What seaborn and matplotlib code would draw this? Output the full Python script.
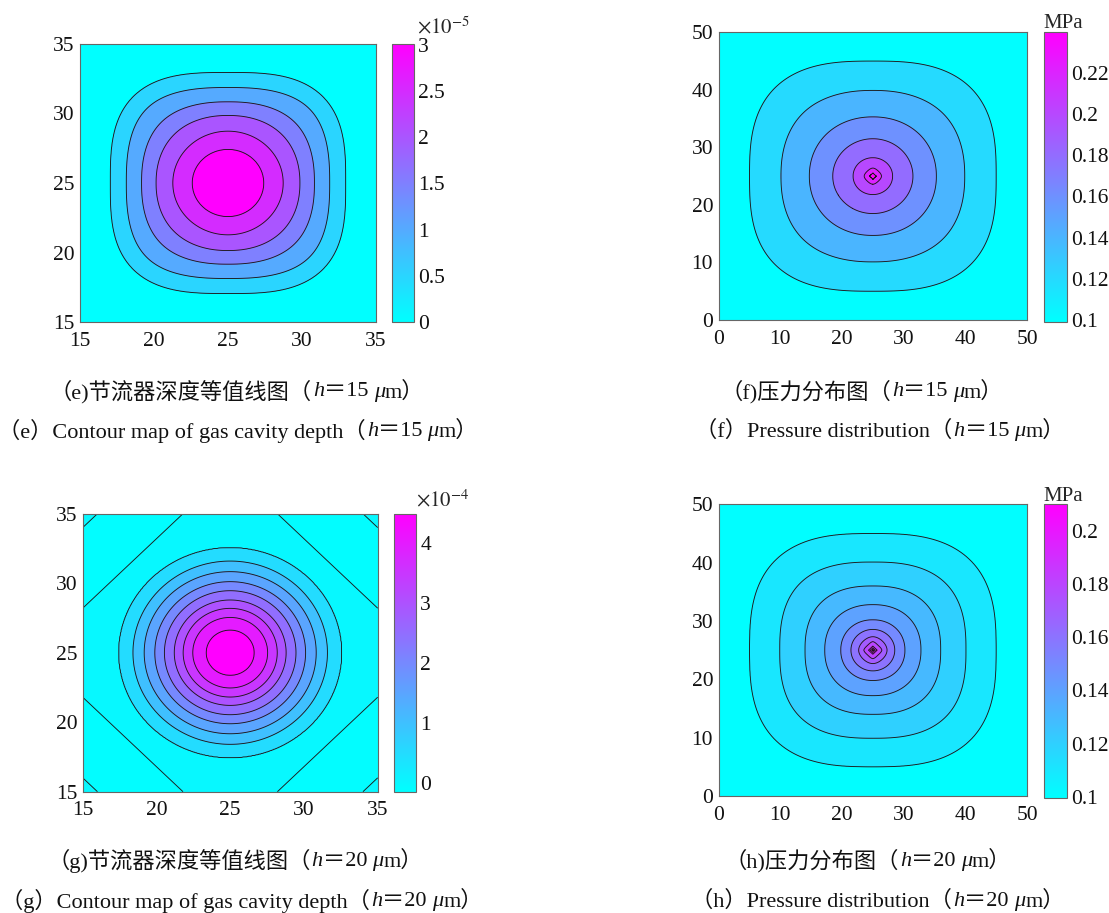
import numpy as np
import matplotlib
matplotlib.use("Agg")
import matplotlib.pyplot as plt
import matplotlib.colors as mcolors
import matplotlib.cm as mcm
import seaborn as sns

sns.set_theme(style="white")
plt.rcParams['font.family'] = ['Liberation Serif', 'Noto Sans CJK SC']
plt.rcParams['mathtext.fontset'] = 'stix'

CMAP = sns.color_palette("cool", as_cmap=True)

# (e) gas cavity depth, h = 15 um  (values in 1e-5)
depth_e_levels = [0, 0.5, 1.0, 1.5, 2.0, 2.5]
depth_e_radius = [7.95, 6.87, 5.84, 4.86, 3.73, 2.42]
depth_e_shape  = [3.0, 2.7, 2.4, 2.2, 2.0, 2.0]
depth_e_peak   = 3.0
depth_e_ticks  = [0, 0.5, 1, 1.5, 2, 2.5, 3]
depth_e_labels = ["0", "0.5", "1", "1.5", "2", "2.5", "3"]

# (f) pressure, h = 15 um  (MPa)
press_f_levels = [0.10, 0.12, 0.14, 0.16, 0.18, 0.20, 0.22]
press_f_radius = [20.0, 14.9, 10.3, 6.5, 3.2, 1.4, 0.55]
press_f_shape  = [2.8, 2.3, 2.1, 2.0, 2.0, 1.6, 1.0]
press_f_peak   = 0.2396
press_f_ticks  = [0.1, 0.12, 0.14, 0.16, 0.18, 0.2, 0.22]
press_f_labels = ["0.1", "0.12", "0.14", "0.16", "0.18", "0.2", "0.22"]

# (g) gas cavity depth, h = 20 um  (values in 1e-4)
depth_g_levels = [0, 0.5, 1.0, 1.5, 2.0, 2.5, 3.0, 3.5, 4.0]
depth_g_radius = [7.55, 6.59, 5.83, 5.11, 4.46, 3.79, 3.19, 2.54, 1.63]
depth_g_shape  = [2.0, 2.0, 2.0, 2.0, 2.0, 2.0, 2.0, 2.0, 2.0]
depth_g_peak   = 4.49
depth_g_floor  = -0.08
corner_g_level = -0.1
corner_g_dist  = [0, 1.0, 3.9, 6.8, 8.0]
corner_g_dip   = [0, -0.02, -0.06, -0.02, 0]
depth_g_ticks  = [0, 1, 2, 3, 4]
depth_g_labels = ["0", "1", "2", "3", "4"]

# (h) pressure, h = 20 um  (MPa)
press_h_levels = [0.10, 0.11, 0.12, 0.13, 0.14, 0.15, 0.16, 0.17, 0.18, 0.19, 0.20]
press_h_radius = [20.0, 15.1, 11.0, 7.8, 5.2, 3.55, 2.3, 1.46, 0.7, 0.4, 0.15]
press_h_shape  = [2.8, 2.6, 2.4, 2.2, 2.1, 2.0, 1.8, 1.4, 1.0, 1.0, 1.0]
press_h_peak   = 0.21
press_h_ticks  = [0.1, 0.12, 0.14, 0.16, 0.18, 0.2]
press_h_labels = ["0.1", "0.12", "0.14", "0.16", "0.18", "0.2"]

W, H = 1109, 913
fig = plt.figure(figsize=(W / 100, H / 100), dpi=100)

TICK_SIZE = 15.5


def px_box(x0, y0, x1, y1):
    return [x0 / W, 1 - y1 / H, (x1 - x0) / W, (y1 - y0) / H]


def ring_field(grid, center, radius, shape, levels, peak, outside):
    X, Y = np.meshgrid(grid, grid)
    dx = np.abs(X - center)
    dy = np.abs(Y - center)
    r = np.hypot(dx, dy)
    rad = np.asarray(radius, float)[::-1]
    p = np.interp(r, rad, np.asarray(shape, float)[::-1])
    d = (dx ** p + dy ** p) ** (1.0 / p)
    xp = np.concatenate([[0.0], rad, [rad[-1] + 1.0]])
    fp = np.concatenate([[peak], np.asarray(levels, float)[::-1], [outside]])
    return X, Y, np.interp(d, xp, fp)


def draw_panel(ax_box, cax_box, X, Y, Z, line_levels, fill_levels, vmin, vmax,
               lim, ticks, cticks, clabels):
    ax = fig.add_axes(px_box(*ax_box))
    norm = mcolors.Normalize(vmin=vmin, vmax=vmax, clip=True)
    band_colors = [CMAP(norm(v)) for v in fill_levels[1:]]
    ax.contourf(X, Y, Z, levels=fill_levels, colors=band_colors)
    ax.contour(X, Y, Z, levels=line_levels, colors="#1a1a1a", linewidths=0.65,
               linestyles="solid", negative_linestyles="solid")
    ax.set_xlim(lim)
    ax.set_ylim(lim)
    ax.set_xticks(ticks)
    ax.set_yticks(ticks)
    ax.tick_params(direction="in", length=4, width=0.6, top=True, right=True,
                   labelsize=TICK_SIZE, pad=4, colors="#333333", labelcolor="#111111")
    ax.tick_params(axis="x", pad=7)
    for s in ax.spines.values():
        s.set_color("#666666")
        s.set_linewidth(0.8)

    cax = fig.add_axes(px_box(*cax_box))
    cb = fig.colorbar(mcm.ScalarMappable(norm=norm, cmap=CMAP), cax=cax)
    cb.set_ticks(cticks)
    cb.set_ticklabels(clabels)
    cb.outline.set_edgecolor("#666666")
    cb.outline.set_linewidth(0.8)
    cax.tick_params(direction="in", length=4, width=0.6, left=True, right=False,
                    labelleft=False, labelright=True, labelsize=TICK_SIZE, pad=3,
                    colors="#333333", labelcolor="#111111")
    return ax


# (e)
grid_small = np.linspace(15, 35, 401)
Xe, Ye, Ze = ring_field(grid_small, 25, depth_e_radius, depth_e_shape,
                        depth_e_levels, depth_e_peak, -0.3)
draw_panel((80, 44, 376, 322), (392, 44, 414, 322), Xe, Ye, Ze,
           depth_e_levels, [-1.0] + depth_e_levels + [3.1], 0, 3.01,
           (15, 35), [15, 20, 25, 30, 35], depth_e_ticks, depth_e_labels)

# (f)
grid_big = np.linspace(0, 50, 1001)
Xf, Yf, Zf = ring_field(grid_big, 25, press_f_radius, press_f_shape,
                        press_f_levels, press_f_peak, 0.095)
draw_panel((718.7, 32.3, 1027, 320), (1044.3, 32.3, 1067, 321.7), Xf, Yf, Zf,
           press_f_levels, [0.0] + press_f_levels + [0.25], 0.0992, 0.2396,
           (0, 50), [0, 10, 20, 30, 40, 50], press_f_ticks, press_f_labels)

# (g)
Xg, Yg, Zg = ring_field(grid_small, 25, depth_g_radius, depth_g_shape,
                        depth_g_levels, depth_g_peak, depth_g_floor)
corner_dist = (10 - np.abs(Xg - 25)) + (10 - np.abs(Yg - 25))
Zg = Zg + np.interp(corner_dist, corner_g_dist, corner_g_dip)
draw_panel((82.7, 513.7, 377.7, 791.7), (394.3, 513.7, 416, 791.7), Xg, Yg, Zg,
           [corner_g_level] + depth_g_levels,
           [-0.5, corner_g_level] + depth_g_levels + [4.6], -0.14, 4.49,
           (15, 35), [15, 20, 25, 30, 35], depth_g_ticks, depth_g_labels)

# (h)
Xh, Yh, Zh = ring_field(grid_big, 25, press_h_radius, press_h_shape,
                        press_h_levels, press_h_peak, 0.095)
draw_panel((718.7, 504.3, 1027, 796), (1044.3, 504.3, 1067, 798.3), Xh, Yh, Zh,
           press_h_levels, [0.0] + press_h_levels + [0.22], 0.0994, 0.21,
           (0, 50), [0, 10, 20, 30, 40, 50], press_h_ticks, press_h_labels)

# colorbar units
fig.text(417 / W, 1 - 33 / H, r"$\times10^{-5}$", fontsize=15, va="baseline", ha="left")
fig.text(416 / W, 1 - 506 / H, r"$\times10^{-4}$", fontsize=15, va="baseline", ha="left")
fig.text(1043 / W, 1 - 28 / H, "MPa", fontsize=15, va="baseline", ha="left")
fig.text(1043 / W, 1 - 501 / H, "MPa", fontsize=15, va="baseline", ha="left")

# captions, italic pieces placed one after another
renderer = fig.canvas.get_renderer()


def caption(cx, cy, parts, size=16):
    items = []
    for text, style, gap in parts:
        t = fig.text(0, 1 - cy / H, text, fontsize=size, style=style,
                     va="center", ha="left", color="#111111")
        items.append((t, gap))
    widths = [t.get_window_extent(renderer).width for t, _ in items]
    total = sum(widths) + sum(g for _, g in items)
    x = cx - total / 2
    for (t, gap), w in zip(items, widths):
        x += gap
        t.set_x(x / W)
        x += w


def caption_parts(head, hval):
    return [(head + "（", "normal", 0), ("h", "italic", 1),
            ("＝" + hval, "normal", 0), ("μ", "italic", 5), ("m）", "normal", 0)]


caption(237, 392, caption_parts("（e)节流器深度等值线图", "15"))
caption(238, 431, caption_parts("（e）Contour map of gas cavity depth", "15"))
caption(862, 392, caption_parts("（f)压力分布图", "15"))
caption(880, 431, caption_parts("（f）Pressure distribution", "15"))
caption(235, 861, caption_parts("（g)节流器深度等值线图", "20"))
caption(242, 901, caption_parts("（g）Contour map of gas cavity depth", "20"))
caption(868, 861, caption_parts("（h)压力分布图", "20"))
caption(878, 901, caption_parts("（h）Pressure distribution", "20"))

fig.savefig("out.png", dpi=100)
